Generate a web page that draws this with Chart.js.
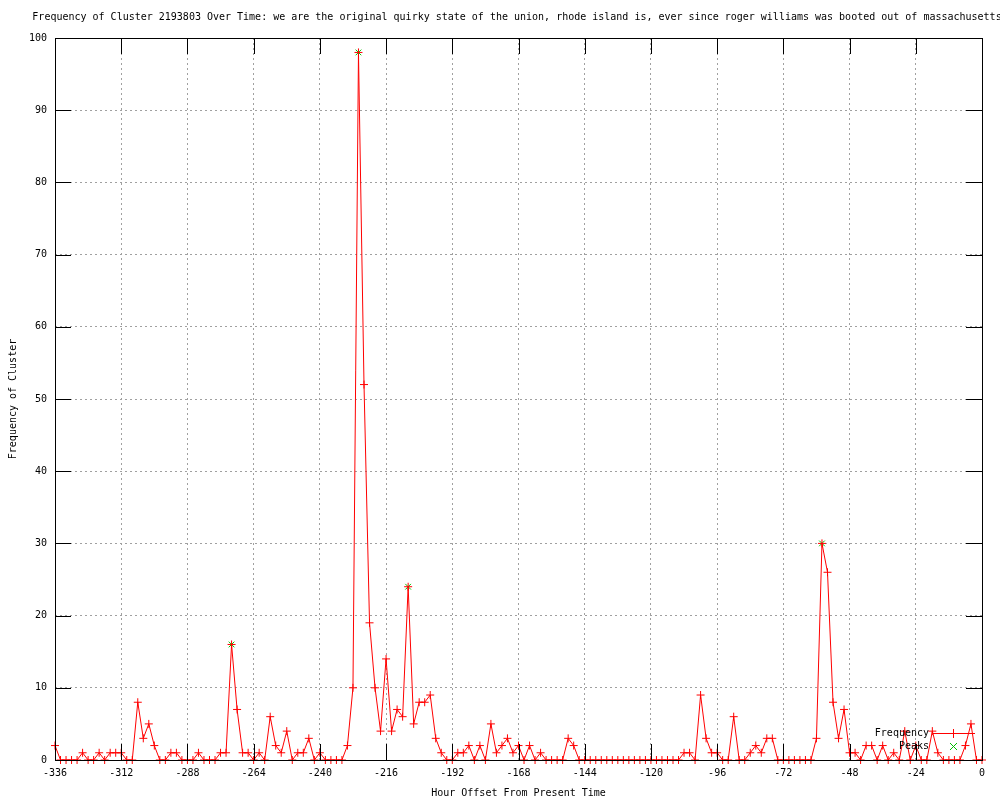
<!DOCTYPE html>
<html>
<head>
<meta charset="utf-8">
<script src="https://cdn.jsdelivr.net/npm/chart.js@4"></script>
<style>
  html, body { margin: 0; padding: 0; background: #fff; }
  #wrap { width: 1000px; height: 800px; }
</style>
</head>
<body>
<div id="wrap"><canvas id="clusterChart" width="1000" height="800"></canvas></div>
<script>
// hour offsets run from -336 to 0 in 2 hour steps
var startHour = -336;
var hourStep = 2;
var xTicks = [-336, -312, -288, -264, -240, -216, -192, -168, -144, -120, -96, -72, -48, -24, 0];
var yTicks = [0, 10, 20, 30, 40, 50, 60, 70, 80, 90, 100];

var frequency = [
  2, 0, 0, 0, 0, 1, 0, 0, 1, 0, 1, 1, 1, 0, 0, 8, 3, 5, 2, 0,
  0, 1, 1, 0, 0, 0, 1, 0, 0, 0, 1, 1, 16, 7, 1, 1, 0, 1, 0, 6,
  2, 1, 4, 0, 1, 1, 3, 0, 1, 0, 0, 0, 0, 2, 10, 98, 52, 19, 10, 4,
  14, 4, 7, 6, 24, 5, 8, 8, 9, 3, 1, 0, 0, 1, 1, 2, 0, 2, 0, 5,
  1, 2, 3, 1, 2, 0, 2, 0, 1, 0, 0, 0, 0, 3, 2, 0, 0, 0, 0, 0,
  0, 0, 0, 0, 0, 0, 0, 0, 0, 0, 0, 0, 0, 0, 1, 1, 0, 9, 3, 1,
  1, 0, 0, 6, 0, 0, 1, 2, 1, 3, 3, 0, 0, 0, 0, 0, 0, 0, 3, 30,
  26, 8, 3, 7, 1, 1, 0, 2, 2, 0, 2, 0, 1, 0, 4, 0, 2, 0, 0, 4,
  1, 0, 0, 0, 0, 2, 5, 0, 0
];

var peakHours = [-272, -226, -208, -58];
var peakValues = [16, 98, 24, 30];

var titleText = "Frequency of Cluster 2193803 Over Time: we are the original quirky state of the union, rhode island is, ever since roger williams was booted out of massachusetts";

var monoFont = "'DejaVu Sans Mono', 'Liberation Mono', monospace";
var freqColor = 'rgb(255, 0, 0)';
var peakColor = 'rgb(0, 192, 0)';

var freqPoints = frequency.map(function (v, i) {
  return { x: startHour + i * hourStep, y: v };
});
var peakPoints = peakHours.map(function (h, i) {
  return { x: h, y: peakValues[i] };
});

// gnuplot style bits: title, inward tick marks, legend inside the plot
var gnuplotLook = {
  id: 'gnuplotLook',
  afterDatasetsDraw: function (chart) {
    var c = chart.ctx;
    c.save();
    c.globalCompositeOperation = 'source-over';
    c.globalAlpha = 1;
    c.setLineDash([]);
    c.lineWidth = 1;

    c.font = '10px ' + monoFont;
    c.textBaseline = 'middle';
    c.textAlign = 'right';
    c.fillStyle = '#000';
    c.fillText('Frequency', 929, 733);
    c.fillText('Peaks', 929, 746);

    c.strokeStyle = freqColor;
    c.beginPath();
    c.moveTo(933, 733.5); c.lineTo(975, 733.5);
    c.moveTo(953.5, 729); c.lineTo(953.5, 738);
    c.stroke();

    c.strokeStyle = peakColor;
    c.beginPath();
    c.moveTo(950, 743); c.lineTo(957, 750);
    c.moveTo(950, 750); c.lineTo(957, 743);
    c.stroke();
    c.restore();
  },
  afterDraw: function (chart) {
    var c = chart.ctx;
    var area = chart.chartArea;
    var xs = chart.scales.x, ys = chart.scales.y;
    c.save();

    c.fillStyle = '#000';
    c.font = '10px ' + monoFont;
    c.textAlign = 'center';
    c.textBaseline = 'middle';
    c.fillText(titleText, 517, 17);

    c.strokeStyle = '#000';
    c.lineWidth = 1;
    c.setLineDash([]);
    var tl = 16;
    c.beginPath();
    xTicks.forEach(function (t) {
      var px = Math.round(xs.getPixelForValue(t)) + 0.5;
      c.moveTo(px, area.bottom); c.lineTo(px, area.bottom - tl);
      c.moveTo(px, area.top); c.lineTo(px, area.top + tl);
    });
    yTicks.forEach(function (t) {
      var py = Math.round(ys.getPixelForValue(t)) + 0.5;
      c.moveTo(area.left, py); c.lineTo(area.left + tl, py);
      c.moveTo(area.right, py); c.lineTo(area.right - tl, py);
    });
    c.stroke();
    c.strokeRect(Math.round(area.left) + 0.5, Math.round(area.top) + 0.5,
      Math.round(area.right - area.left), Math.round(area.bottom - area.top));
    c.restore();
  }
};

var clusterChart = new Chart(document.getElementById('clusterChart').getContext('2d'), {
  type: 'line',
  data: {
    datasets: [{
      label: 'Frequency',
      data: freqPoints,
      borderColor: freqColor,
      backgroundColor: freqColor,
      borderWidth: 1,
      pointStyle: 'cross',
      pointRadius: 4,
      pointBorderWidth: 1,
      pointBorderColor: freqColor,
      tension: 0,
      clip: 8
    }, {
      label: 'Peaks',
      data: peakPoints,
      showLine: false,
      borderColor: peakColor,
      backgroundColor: peakColor,
      pointStyle: 'crossRot',
      pointRadius: 4,
      pointBorderWidth: 1,
      pointBorderColor: peakColor,
      clip: 8
    }]
  },
  options: {
    responsive: false,
    animation: false,
    layout: { padding: { top: 38, right: 18, left: 0, bottom: 0 } },
    plugins: {
      legend: { display: false },
      title: { display: false },
      tooltip: { enabled: false }
    },
    scales: {
      x: {
        type: 'linear',
        min: -336,
        max: 0,
        afterFit: function (s) { s.height = 40; },
        afterBuildTicks: function (s) { s.ticks = xTicks.map(function (v) { return { value: v }; }); },
        grid: { color: '#a0a0a0', drawTicks: false },
        border: { display: false, dash: [2, 3] },
        ticks: { color: '#000', font: { family: monoFont, size: 10 }, padding: 7, maxRotation: 0 },
        title: { display: true, text: 'Hour Offset From Present Time', color: '#000',
          font: { family: monoFont, size: 10 }, padding: { top: 4, bottom: 1 } }
      },
      y: {
        min: 0,
        max: 100,
        afterFit: function (s) { s.width = 55; },
        afterBuildTicks: function (s) { s.ticks = yTicks.map(function (v) { return { value: v }; }); },
        grid: { color: '#a0a0a0', drawTicks: false },
        border: { display: false, dash: [2, 3] },
        ticks: { color: '#000', font: { family: monoFont, size: 10 }, padding: 8 },
        title: { display: true, text: 'Frequency of Cluster', color: '#000',
          font: { family: monoFont, size: 10 }, padding: { top: 7, bottom: 0 } }
      }
    }
  },
  plugins: [gnuplotLook]
});
</script>
</body>
</html>
